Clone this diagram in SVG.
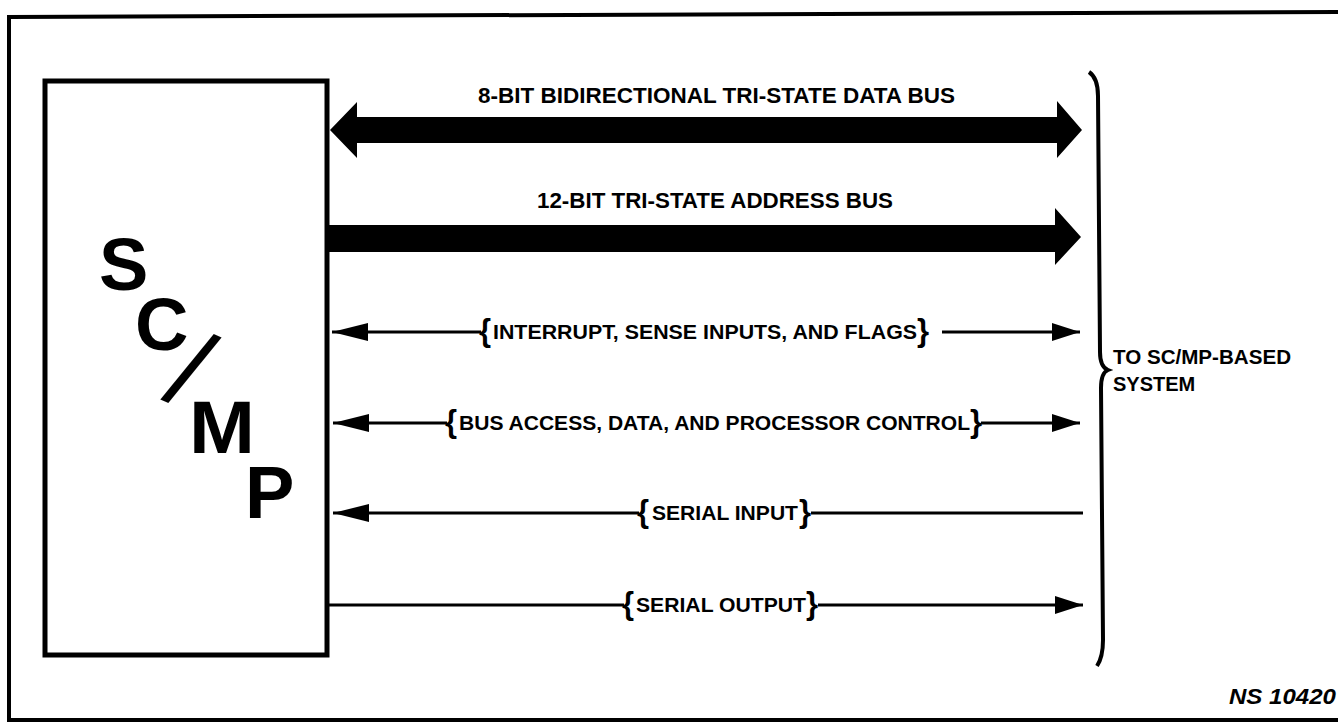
<svg xmlns="http://www.w3.org/2000/svg" width="1338" height="722" viewBox="0 0 1338 722">
<defs>
<style>
.lbl{font-family:"Liberation Sans",Arial,sans-serif;font-weight:bold;fill:#000}
.big{font-size:22px}
.sig{font-size:19.5px}
.brace{font-family:"Liberation Sans",Arial,sans-serif;font-weight:bold;font-size:31px;fill:#000}
.thin{stroke:#000;stroke-width:3;fill:none}
.frame{stroke:#000;stroke-width:4;fill:none}
.bus{fill:#000;stroke:none}
.ltr{font-family:"Liberation Sans",Arial,sans-serif;font-weight:bold;font-size:74px;fill:#000}
</style>
<marker id="headR" markerUnits="userSpaceOnUse" markerWidth="28" markerHeight="18" refX="28" refY="9" orient="auto">
<path d="M0,0 L28,9 L0,18 Z" fill="#000"/>
</marker>
<marker id="headL" markerUnits="userSpaceOnUse" markerWidth="36" markerHeight="18" refX="36" refY="9" orient="auto">
<path d="M0,0 L36,9 L0,18 Z" fill="#000"/>
</marker>
</defs>
<rect width="1338" height="722" fill="#fff"/>
<path class="frame" d="M1340,12 L9,17 L9,720 L1340,720"/>

<g id="scmp">
<rect x="45" y="81" width="282" height="574" fill="none" stroke="#000" stroke-width="5"/>
<text class="ltr" x="99" y="290">S</text>
<text class="ltr" x="135" y="350">C</text>
<text class="ltr" x="189" y="453" textLength="66" lengthAdjust="spacingAndGlyphs">M</text>
<text class="ltr" x="245" y="518">P</text>
<text transform="translate(191,368.5) rotate(24)" x="0" y="39.6" text-anchor="middle" style="font-family:'Liberation Sans',Arial,sans-serif;font-size:111px;fill:#000">/</text>
</g>

<g id="system">
<path d="M1089,72 C1095,76 1098,84 1098,96 L1100,352 C1100,362 1103,368 1108,370 C1103,372 1101,378 1101,388 L1103,640 C1103,652 1101,660 1097,666" stroke="#000" stroke-width="4" fill="none"/>
<text class="lbl" x="1113" y="364" style="font-size:20px" textLength="178" lengthAdjust="spacingAndGlyphs">TO SC/MP-BASED</text>
<text class="lbl" x="1113" y="391" style="font-size:20px">SYSTEM</text>
</g>

<g id="connectors">
<g id="data-bus">
<polygon class="bus" points="330,130 357,102 357,117 1057,117 1057,101 1082,130 1057,158 1057,143 357,143 357,158"/>
<text class="lbl big" x="478" y="103" textLength="477" lengthAdjust="spacingAndGlyphs">8-BIT BIDIRECTIONAL TRI-STATE DATA BUS</text>
</g>
<g id="address-bus">
<polygon class="bus" points="327,225 1055,225 1055,208 1081,237 1055,265 1055,252 327,252"/>
<text class="lbl big" x="537" y="208" textLength="356" lengthAdjust="spacingAndGlyphs">12-BIT TRI-STATE ADDRESS BUS</text>
</g>
<g id="interrupt">
<line class="thin" x1="481" y1="332" x2="332" y2="332" marker-end="url(#headL)"/>
<text class="brace" x="479" y="341">{</text>
<text class="lbl sig" x="493" y="339" textLength="424" lengthAdjust="spacingAndGlyphs">INTERRUPT, SENSE INPUTS, AND FLAGS</text>
<text class="brace" x="917" y="341">}</text>
<line class="thin" x1="942" y1="332" x2="1080" y2="332" marker-end="url(#headR)"/>
</g>
<g id="bus-access">
<line class="thin" x1="447" y1="423" x2="333" y2="423" marker-end="url(#headL)"/>
<text class="brace" x="445" y="432">{</text>
<text class="lbl sig" x="459" y="430" textLength="511" lengthAdjust="spacingAndGlyphs">BUS ACCESS, DATA, AND PROCESSOR CONTROL</text>
<text class="brace" x="970" y="432">}</text>
<line class="thin" x1="981" y1="423" x2="1080" y2="423" marker-end="url(#headR)"/>
</g>
<g id="serial-input">
<line class="thin" x1="639" y1="513" x2="333" y2="513" marker-end="url(#headL)"/>
<text class="brace" x="637" y="522">{</text>
<text class="lbl sig" x="652" y="520" textLength="146" lengthAdjust="spacingAndGlyphs">SERIAL INPUT</text>
<text class="brace" x="799" y="522">}</text>
<line class="thin" x1="811" y1="513" x2="1083" y2="513"/>
</g>
<g id="serial-output">
<line class="thin" x1="328" y1="605" x2="624" y2="605"/>
<text class="brace" x="622" y="614">{</text>
<text class="lbl sig" x="636" y="612" textLength="170" lengthAdjust="spacingAndGlyphs">SERIAL OUTPUT</text>
<text class="brace" x="806" y="614">}</text>
<line class="thin" x1="818" y1="605" x2="1083" y2="605" marker-end="url(#headR)"/>
</g>
</g>

<text class="lbl" x="1229" y="704" style="font-size:22px;font-style:italic" textLength="107" lengthAdjust="spacingAndGlyphs">NS 10420</text>
</svg>
